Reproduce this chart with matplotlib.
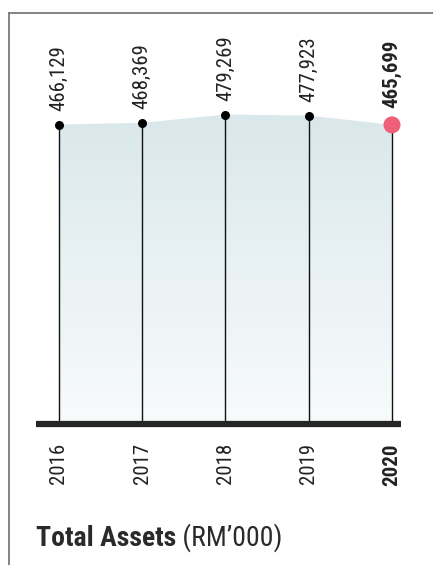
import matplotlib
matplotlib.use("Agg")
import matplotlib.pyplot as plt
import numpy as np
from matplotlib.patches import Polygon
from matplotlib.lines import Line2D

years = ["2016", "2017", "2018", "2019", "2020"]
values = [466129, 468369, 479269, 477923, 465699]
value_labels = ["466,129", "468,369", "479,269", "477,923", "465,699"]
title_bold = "Total Assets"
title_rest = " (RM’000)"

W, H = 433, 565
fig = plt.figure(figsize=(W / 100, H / 100), dpi=100)
FONT = ["Roboto Condensed", "Archivo Narrow", "Liberation Sans", "DejaVu Sans"]

def fx(px):
    return px / W

def fy(py):
    return 1 - py / H

# frame lines (figure coords)
fig.add_artist(Line2D([fx(9), fx(9)], [fy(13), fy(565)], color="#7a7a7a", lw=1.3))
fig.add_artist(Line2D([fx(9), fx(433)], [fy(13), fy(13)], color="#7a7a7a", lw=1.3))

# axes: x from px 36 to 401, y from px 13 to 424
ax = fig.add_axes([fx(36), fy(424), fx(401) - fx(36), fy(13) - fy(424)])
x = np.arange(len(years))
px_per = (392 - 59) / 4
x0 = -(59 - 36) / px_per
x1 = 4 + (401 - 392) / px_per
ax.set_xlim(x0, x1)
ylo, yhi = 72600, 612700
ax.set_ylim(ylo, yhi)
ax.axis("off")

# gradient fill under the line
poly_pts = [(x[0], ylo)] + list(zip(x, values)) + [(x[-1], ylo)]
poly = Polygon(poly_pts, closed=True, facecolor="none", edgecolor="none")
ax.add_patch(poly)
grad = np.linspace(0, 1, 256).reshape(-1, 1)
top_c = np.array([0.855, 0.910, 0.922])
bot_c = np.array([0.972, 0.984, 0.988])
img = top_c * (1 - grad[..., None]) + bot_c * grad[..., None]
img = img.reshape(256, 1, 3)
im = ax.imshow(img, extent=[x[0], x[-1], ylo, max(values)], origin="upper",
               aspect="auto", zorder=1)
im.set_clip_path(poly)

# stems
for xi, v in zip(x, values):
    ax.plot([xi, xi], [ylo, v], color="#111111", lw=1.0, zorder=2)

# dots
ax.scatter(x[:-1], values[:-1], s=30, color="black", zorder=4)
ax.scatter([x[-1]], [values[-1]], s=150, color="#ef5f79", zorder=4, edgecolors="none")

# baseline
ax.plot([x0, x1], [ylo, ylo], color="#262626", lw=4.5, solid_capstyle="butt",
        zorder=5, clip_on=False)

# value labels
for i, (xi, v, lab) in enumerate(zip(x, values, value_labels)):
    off = 14 if i < 4 else 17
    ax.annotate(lab, (xi, v), xytext=(0, off), textcoords="offset pixels",
                rotation=90, ha="center", va="bottom", fontsize=15,
                color="#222222", family=FONT,
                fontweight="bold" if i == 4 else "normal")

# year labels
for i, (xi, yr) in enumerate(zip(x, years)):
    ax.annotate(yr, (xi, ylo), xytext=(0, -19), textcoords="offset pixels",
                rotation=90, ha="center", va="top", fontsize=15,
                color="#222222", family=FONT,
                fontweight="bold" if i == 4 else "normal")

# title
t1 = fig.text(fx(36), fy(546), title_bold, fontsize=20, fontweight="bold",
              color="#2a2a2a", family=FONT, ha="left", va="baseline")
fig.canvas.draw()
bb = t1.get_window_extent()
fig.text(bb.x1 / W, fy(546), title_rest, fontsize=20, color="#2a2a2a",
         family=FONT, ha="left", va="baseline")

fig.savefig("out.png", dpi=100)
